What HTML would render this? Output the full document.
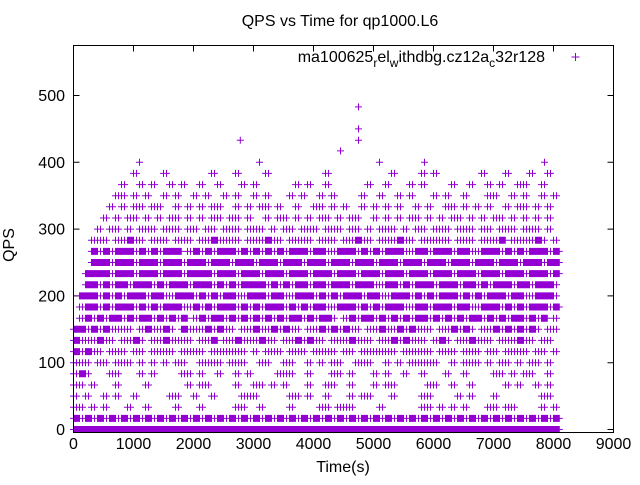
<!DOCTYPE html>
<html><head><meta charset="utf-8"><style>
body{margin:0;background:#fff}
svg text{font-family:"Liberation Sans",sans-serif;font-size:16px;fill:#000}
</style></head><body>
<svg id="c" width="640" height="480" xmlns="http://www.w3.org/2000/svg">
<rect width="640" height="480" fill="#fff"/>
<text x="340" y="26" text-anchor="middle">QPS vs Time for qp1000.L6</text>
<text x="545" y="62" text-anchor="end">ma100625<tspan dy="5" font-size="12">r</tspan><tspan dy="-5">el</tspan><tspan dy="5" font-size="12">w</tspan><tspan dy="-5">ithdbg.cz12a</tspan><tspan dy="5" font-size="12">c</tspan><tspan dy="-5">32r128</tspan></text>
<path d="M571.5 57h8M575.5 53v8" stroke="#9400d3" stroke-width="1"/>
<text x="14" y="245" text-anchor="middle" transform="rotate(-90 14 245)">QPS</text>
<text x="343" y="472" text-anchor="middle">Time(s)</text>
<g id="ticks"></g>
<g id="pts"></g>
<rect x="73.5" y="45.5" width="540" height="387" fill="none" stroke="#000" stroke-width="1"/>
</svg>
<script>
const xTicks=[0,1000,2000,3000,4000,5000,6000,7000,8000,9000];
const yTicks=[0,100,200,300,400,500];
const levelStep=16.667;
const binSeconds=100;
// occupancy per QPS level (index k => k*16.667 qps), one char per 100s bin
// '2' = dense (solid block), '1' = a couple of markers, '0' = empty
const levelBins=[
"222222222222222222222222222222222222222222222222222222222222222222222222222222222",
"212121212121212121212121212121212121212121212121212121212121212121212121212121212",
"110101000100100001000100000110010000100001101110000100000011010101000110110000101",
"101001010010000011001001000011100000110100100010110001000011000010100010000000110",
"110100010000100000010110000100110101000100110010001011000001100100100000101001010",
"121000110001010000110100100101000011100100011010001010010010001001000011010110010",
"111011011101010101100111101110011001100101011001110010101111100101110101101011010",
"212110111011011110111101111110101110111011110110111111011111011101110110111101101",
"211121101121011211110112011211121101121211011121110112121110121011211101112110110",
"221212111101211210211121211011211212110112121211011211212111011212101121212121011",
"012121221212212121201212212121212121221212210121221212121221212121221212122121201",
"012212122212121222112121222121212221212122112221212122211221222122112221212122212",
"022212121222122112221212122112221221122212121222122112221212122212121222122112221",
"002212122122212122212221212122221212122122122212221122121222122212212122212212221",
"002222122212221222122221222122212221222122212221222122212221222122212221222122212",
"000222122212221222122212221222122212221222122212221222122212221222122212221222122",
"000212122212121222012121222121212121222122112221212122211221222122112221212122212",
"000111011211011101110112111101112110111101110112110111211011111011101112011112101",
"000010110101110111011011011101110101101110111011010111010110111011101101110111010",
"000001010110101011010101101101001011010101101011001010101101010110101011010101010",
"000000101011011001010101100101011010010011010100101010100101001101010100101101010",
"000000011010100101001010010100101000101001010000100100101000101001000110010100101",
"000000001001010010100100100010100000010100100000010010001010000100100101001100100",
"000000000010000100000001000100001000000000100000000001000010100000001000100010010"
];
const outlierTimes=[1100,3100,5100,5850,7850,2780,4450,4750,4750,4750];
const outlierQps=[400,400,400,400,400,433,417,433,450,483];
const X=t=>73.5+t*0.06;
const Y=v=>429.5-v*0.668;
const NS="http://www.w3.org/2000/svg";
const tg=document.getElementById('ticks');
xTicks.forEach(t=>{
  const l=document.createElementNS(NS,'path');
  l.setAttribute('d',`M${X(t)} 432v-6M${X(t)} 45.5v6`);l.setAttribute('stroke','#000');
  
  
  tg.appendChild(l);
  const tx=document.createElementNS(NS,'text');
  tx.setAttribute('x',X(t));tx.setAttribute('y',449);tx.setAttribute('text-anchor','middle');tx.textContent=t;
  
  
  tg.appendChild(tx);
});
yTicks.forEach(v=>{
  const l=document.createElementNS(NS,'path');
  l.setAttribute('d',`M73.5 ${Y(v)}h6M613.5 ${Y(v)}h-6`);l.setAttribute('stroke','#000');
  
  
  tg.appendChild(l);
  const tx=document.createElementNS(NS,'text');
  tx.setAttribute('x',65);tx.setAttribute('y',Y(v)+5.5);tx.setAttribute('text-anchor','end');tx.textContent=v;
  
  
  tg.appendChild(tx);
});
let d='';
const plus=(t,v)=>{const x=X(t),y=Y(v);d+=`M${(x-3.5).toFixed(1)} ${y.toFixed(1)}h7M${x.toFixed(1)} ${(y-3.5).toFixed(1)}v7`;};
levelBins.forEach((s,k)=>{for(let i=0;i<s.length;i++){
  if(s[i]==='1'){plus(i*binSeconds,k*levelStep);plus(i*binSeconds+50,k*levelStep);}
  else if(s[i]==='2'){for(let j=0;j<9;j++)plus(i*binSeconds+j*12,k*levelStep);}
}});
outlierTimes.forEach((t,i)=>plus(t,outlierQps[i]));
const p=document.createElementNS(NS,'path');
p.setAttribute('d',d);p.setAttribute('stroke','#9400d3');p.setAttribute('stroke-width','1');p.setAttribute('fill','none');


document.getElementById('pts').appendChild(p);
</script>
</body></html>
